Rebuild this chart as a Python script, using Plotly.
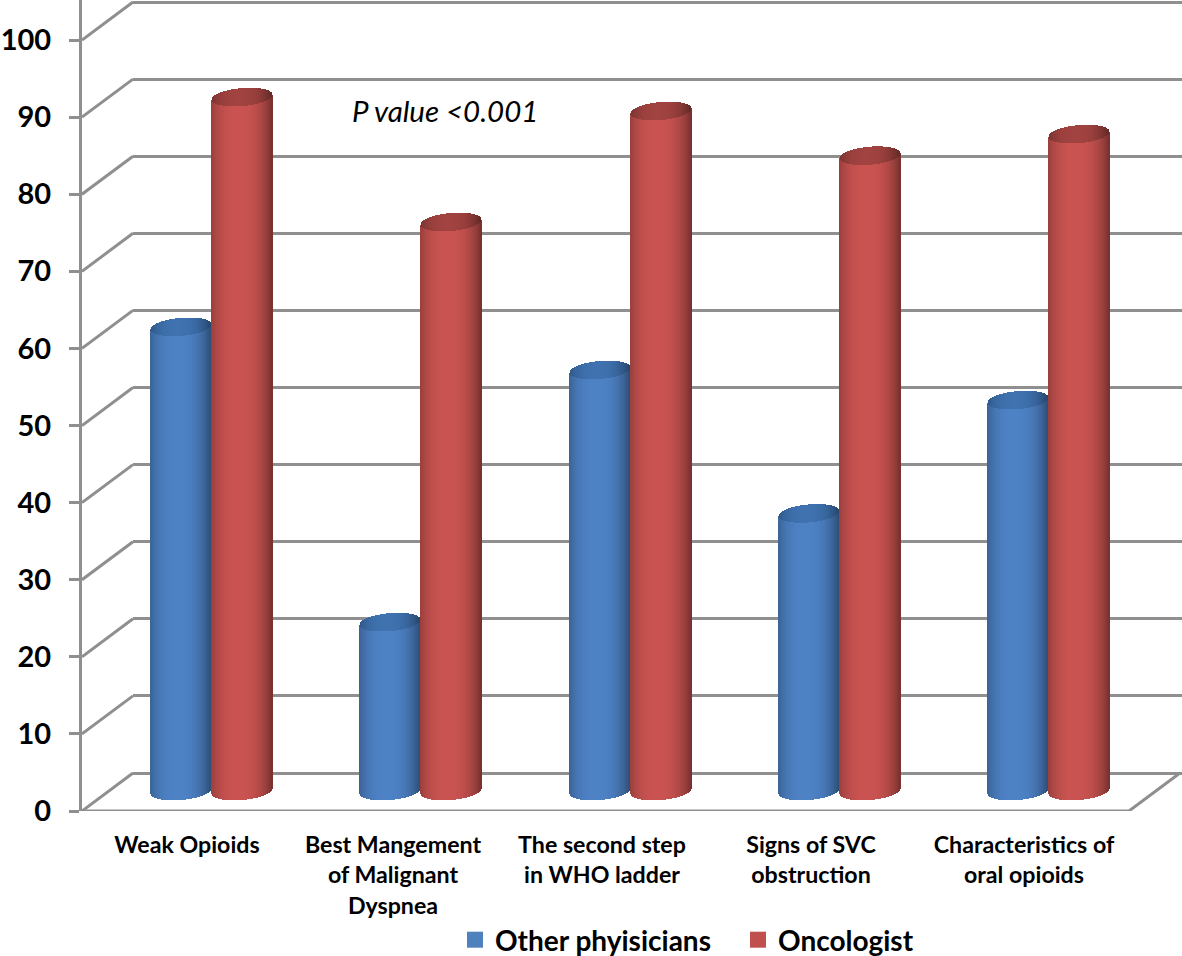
import numpy as np
import plotly.graph_objects as go

W, H = 1182, 956

categories = ["Weak Opioids", "Best Mangement<br>of Malignant<br>Dyspnea", "The second step<br>in WHO ladder",
              "Signs of SVC<br>obstruction", "Characteristics of<br>oral opioids"]
other_physicians = [60.2, 21.9, 54.6, 36.0, 50.7]
oncologist = [90.0, 73.8, 88.2, 82.4, 85.2]
y_ticks = [0, 10, 20, 30, 40, 50, 60, 70, 80, 90, 100]

GREY = "#8f8f8f"
FONT = "Lato"

# pixels -> axis units
px_per_unit = 7.71
px_per_cat = 209.4
floor_front = 811
y_span = floor_front / px_per_unit
left = 82
x_range = [-0.5, -0.5 + (W - left) / px_per_cat]

# labels sit a touch off the category centres in the original
label_px = [187, 393, 602, 811, 1024]


def shade(rgb, t):
    # dark at the rim of the cylinder, lightest a little left of centre
    f = 0.62 + 0.40 * (1 - abs((t + 0.1) / 1.1) ** 2.6)
    return "rgb(%d,%d,%d)" % tuple(min(255, int(c * f)) for c in rgb)


def cylinder(values, rgb, cap_rgb, shift_px):
    n = 61
    ts = np.linspace(-1, 1, n)
    k = 9 / px_per_unit       # half height of the ellipse
    tilt = 2.5 / px_per_unit  # ellipses lean up to the right
    w = (61 / n + 0.3) / px_per_cat
    x, base, h, col = [], [], [], []
    cx, cbase, ch, ccol = [], [], [], []
    for i, v in enumerate(values):
        for t in ts:
            s = np.sqrt(max(1 - t * t, 0))
            xx = i + (shift_px + t * 30) / px_per_cat
            low = -k * s + tilt * t
            top = v - k * s + tilt * t
            x.append(xx); base.append(low); h.append(top - low); col.append(shade(rgb, t))
            cx.append(xx); cbase.append(top); ch.append(2 * k * s); ccol.append(shade(cap_rgb, t))
    body = go.Bar(x=x, y=h, base=base, width=w, xaxis="x2", yaxis="y3", marker=dict(color=col, line_width=0),
                  showlegend=False, hoverinfo="skip")
    cap = go.Bar(x=cx, y=ch, base=cbase, width=w, xaxis="x2", yaxis="y3", marker=dict(color=ccol, line_width=0),
                 showlegend=False, hoverinfo="skip")
    return [body, cap]


fig = go.Figure()

# back wall: grid only, this subplot starts where the depth lines end
fig.add_trace(go.Scatter(x=[0], y=[0], xaxis="x", yaxis="y", mode="markers", marker_opacity=0,
                         showlegend=False, hoverinfo="skip"))

# depth lines and floor
dx = 51 / px_per_cat
dy = 38 / px_per_unit
lx, ly = [], []
for v in y_ticks:
    lx += [-0.5, -0.5 + dx, None]
    ly += [v, v + dy, None]
floor_end = (1129 - left) / px_per_cat - 0.5
lx += [-0.5, floor_end, floor_end + dx]
ly += [0, 0, dy]
fig.add_trace(go.Scatter(x=lx, y=ly, xaxis="x2", yaxis="y2", mode="lines", line=dict(color=GREY, width=3),
                         cliponaxis=False, showlegend=False, hoverinfo="skip"))

for tr in cylinder(other_physicians, (76, 128, 194), (62, 112, 172), -5.7):
    fig.add_trace(tr)
for tr in cylinder(oncologist, (198, 82, 79), (158, 66, 63), 55.3):
    fig.add_trace(tr)

fig.add_trace(go.Scatter(x=[None], y=[None], xaxis="x2", yaxis="y2", mode="markers", name="Other phyisicians",
                         marker=dict(symbol="square", size=18, color="#4F81BD")))
fig.add_trace(go.Scatter(x=[None], y=[None], xaxis="x2", yaxis="y2", mode="markers", name="Oncologist",
                         marker=dict(symbol="square", size=18, color="#C0504D")))

fig.add_annotation(x=(445 - left) / px_per_cat - 0.5, y=(floor_front - 110) / px_per_unit, xref="x2", yref="y2",
                   text="<i>P value <0.001</i>", showarrow=False, font=dict(family=FONT, size=29.5, color="black"))

fig.update_layout(
    width=W, height=H,
    margin=dict(l=left, r=0, t=0, b=H - floor_front, autoexpand=False),
    paper_bgcolor="white", plot_bgcolor="rgba(0,0,0,0)",
    barmode="overlay", bargap=0,
    font=dict(family=FONT, color="black"),
    legend=dict(orientation="h", xanchor="center", x=(738 - left) / (W - left), yanchor="middle",
                y=-(940 - floor_front) / floor_front, font=dict(size=28, weight="bold"), bgcolor="rgba(0,0,0,0)",
                entrywidth=238, entrywidthmode="pixels"),
    xaxis=dict(domain=[(133 - left) / (W - left), 1], range=[0, 1], visible=False, fixedrange=True, automargin=False),
    yaxis=dict(range=[-(floor_front - 773) / px_per_unit, 773 / px_per_unit], anchor="x", tickvals=y_ticks, showgrid=True,
               gridcolor=GREY, gridwidth=3, zeroline=False, showticklabels=False, ticks="", showline=False, automargin=False),
    xaxis2=dict(domain=[0, 1], range=x_range, anchor="y2", tickmode="array",
                tickvals=[(p - left) / px_per_cat - 0.5 for p in label_px], ticktext=categories,
                tickfont=dict(family=FONT, size=23.2, weight="bold"), ticks="", showgrid=False, zeroline=False, showline=False,
                ticklabelstandoff=18, automargin=False),
    yaxis2=dict(domain=[0, 1], range=[0, y_span], anchor="x2", tickvals=y_ticks, ticks="outside", ticklen=10, tickwidth=3,
                tickcolor=GREY, showline=True, linecolor=GREY, linewidth=3, showgrid=False, zeroline=False,
                tickfont=dict(family=FONT, size=29, weight="bold"), ticklabelstandoff=12, automargin=False),
    yaxis3=dict(range=[-(floor_front - 791) / px_per_unit, 791 / px_per_unit], overlaying="y2", anchor="x2", visible=False,
                automargin=False),
)

# the page's default body margin would push the figure 8px off
fig.write_html("out.html", post_script="document.body.style.margin='0';", config=dict(displayModeBar=False))
